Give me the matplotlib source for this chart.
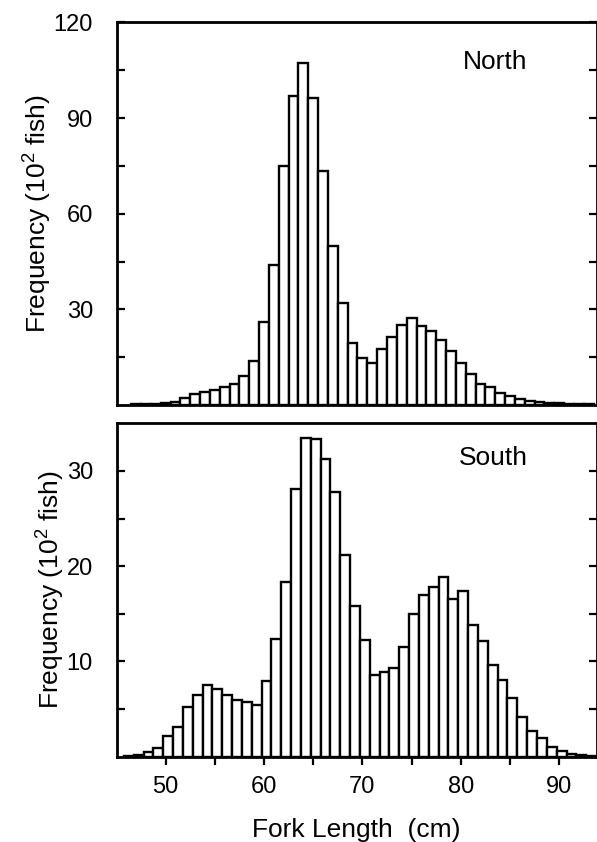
import matplotlib
matplotlib.use("Agg")
import matplotlib.pyplot as plt
import numpy as np
from matplotlib.ticker import FixedLocator, NullLocator

# ---- data (frequency in 10^2 fish per 1-cm fork-length class) ----
north_len = list(range(47, 94))
north_freq = [0.2, 0.3, 0.4, 0.6, 1.0, 2.3, 3.5, 4.2, 4.8, 5.6, 6.6, 9.0, 13.7,
              26.0, 44.0, 75.0, 97.0, 107.3, 96.3, 73.5, 50.0, 32.0, 19.6, 14.7,
              13.2, 17.6, 21.4, 25.1, 27.2, 24.8, 23.2, 20.4, 16.8, 13.1, 9.8,
              6.7, 5.5, 3.9, 2.9, 1.8, 1.2, 0.9, 0.7, 0.5, 0.4, 0.3, 0.3]

south_len = list(range(46, 94))
south_freq = [0.1, 0.2, 0.45, 0.9, 2.2, 3.1, 5.2, 6.5, 7.5, 7.1, 6.5, 5.9, 5.7,
              5.45, 7.9, 12.4, 18.3, 28.1, 33.5, 33.4, 31.3, 27.8, 21.2, 15.85,
              12.2, 8.6, 8.85, 9.3, 11.5, 15.0, 17.0, 17.8, 18.9, 16.6, 17.4,
              13.8, 12.1, 9.6, 8.0, 6.2, 4.2, 2.7, 2.0, 1.0, 0.6, 0.3, 0.2, 0.1]

north_yticks = [30, 60, 90, 120]
north_yminor = [15, 45, 75, 105]
south_yticks = [10, 20, 30]
south_yminor = [5, 15, 25]
x_major = [50, 60, 70, 80, 90]
x_minor = [55, 65, 75, 85]

plt.rcParams['font.family'] = ['Liberation Sans', 'DejaVu Sans']
plt.rcParams['mathtext.fontset'] = 'custom'
plt.rcParams['mathtext.rm'] = 'Liberation Sans'
plt.rcParams['mathtext.it'] = 'Liberation Sans:italic'

W, H = 597, 842
fig = plt.figure(figsize=(W / 100, H / 100), dpi=100)

def ax_rect(l, t, r, b):
    return [l / W, 1 - b / H, (r - l) / W, (b - t) / H]

ax1 = fig.add_axes(ax_rect(116.5, 22.5, 597, 405))
ax2 = fig.add_axes(ax_rect(116.5, 423.3, 597, 756.7))

bar_kw = dict(width=1.0, facecolor='white', edgecolor='black', linewidth=1.7)
ax1.bar(north_len, north_freq, align='center', **bar_kw)
ax2.bar(np.array(south_len) - 0.25, south_freq, align='edge', **bar_kw)

tick_fs = 17
label_fs = 19

for ax, yt, ym, ylim, name in [(ax1, north_yticks, north_yminor, (0, 120), 'North'),
                               (ax2, south_yticks, south_yminor, (0, 35), 'South')]:
    ax.set_xlim(45, 93.85)
    ax.set_ylim(*ylim)
    for s in ax.spines.values():
        s.set_linewidth(2.0)
    ax.yaxis.set_major_locator(FixedLocator(yt))
    ax.yaxis.set_minor_locator(FixedLocator(ym))
    ax.tick_params(axis='y', which='both', direction='in', left=True, right=True,
                   length=6, width=1.6, pad=17, labelsize=tick_fs)
    ax.set_ylabel('Frequency (10$^{\\mathrm{2}}$ fish)', fontsize=label_fs, labelpad=0)
    ax.text(0.72 if name == 'North' else 0.713, 0.897, name, transform=ax.transAxes,
            ha='left', va='center', fontsize=label_fs)

ax1.xaxis.set_major_locator(NullLocator())
ax1.xaxis.set_minor_locator(NullLocator())

ax2.xaxis.set_major_locator(FixedLocator(x_major))
ax2.xaxis.set_minor_locator(FixedLocator(x_minor))
ax2.tick_params(axis='x', which='both', direction='out', bottom=True, top=False,
                length=6, width=1.6, pad=8, labelsize=tick_fs)
ax2.set_xlabel('Fork Length  (cm)', fontsize=label_fs, labelpad=14)

fig.savefig('out.png', dpi=100)
